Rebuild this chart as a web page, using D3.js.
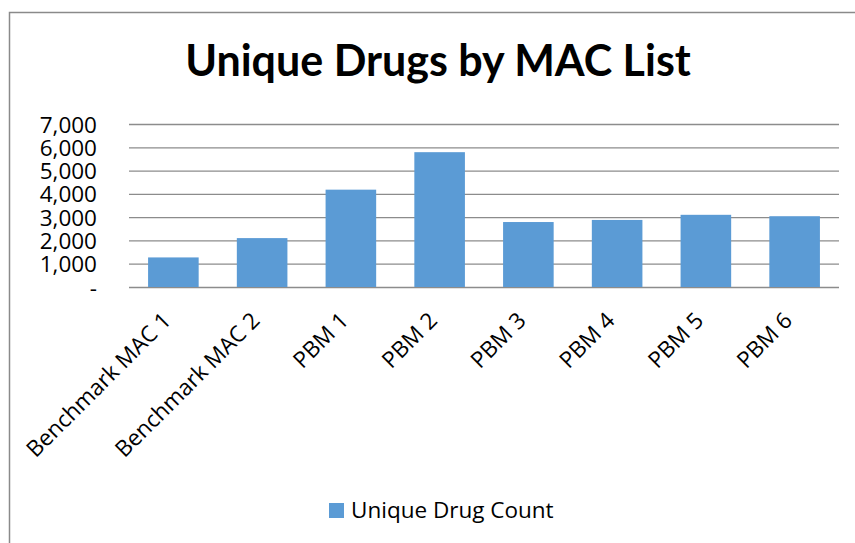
<!DOCTYPE html>
<html>
<head>
<meta charset="utf-8">
<script src="https://cdn.jsdelivr.net/npm/d3@7/dist/d3.min.js"></script>
<style>
  html, body { margin: 0; padding: 0; background: #fff; }
  svg { display: block; }
  text { fill: #000; }
</style>
</head>
<body>
<svg id="chart" width="855" height="543"></svg>
<script>
// Unique drug counts per MAC list
const categories = ["Benchmark MAC 1", "Benchmark MAC 2", "PBM 1", "PBM 2", "PBM 3", "PBM 4", "PBM 5", "PBM 6"];
const uniqueDrugCount = [1270, 2100, 4180, 5790, 2790, 2880, 3100, 3040];
const yTicks = [0, 1000, 2000, 3000, 4000, 5000, 6000, 7000];
const seriesName = "Unique Drug Count";
const chartTitle = "Unique Drugs by MAC List";

const W = 855, H = 543;
const plot = { left: 129, right: 839, top: 124, bottom: 287 };
const barColor = "#5B9BD5";
const gridColor = "#8c8c8c";
const bodyFont = "'Open Sans', Lato, 'Liberation Sans', sans-serif";
const titleFont = "Lato, 'Open Sans', sans-serif";
const labelSize = 22.5;

const svg = d3.select("#chart");

// outer chart frame (runs past the right and bottom edges)
svg.append("rect")
  .attr("x", 9.5).attr("y", 12.5)
  .attr("width", W + 20).attr("height", H + 20)
  .attr("fill", "#fff")
  .attr("stroke", "#8a8a8a").attr("stroke-width", 1.5);

const x = d3.scaleBand()
  .domain(categories)
  .range([plot.left, plot.right])
  .paddingInner(0.43)
  .paddingOuter(0.215);

const y = d3.scaleLinear()
  .domain([0, 7000])
  .range([plot.bottom, plot.top]);

// horizontal gridlines, including the baseline
const yAxis = d3.axisLeft(y)
  .tickValues(yTicks)
  .tickSize(-(plot.right - plot.left))
  .tickFormat(d => d === 0 ? "-" : d3.format(",")(d));

const gy = svg.append("g")
  .attr("transform", `translate(${plot.left},0)`)
  .call(yAxis);
gy.select(".domain").remove();
gy.selectAll(".tick line")
  .attr("stroke", gridColor).attr("stroke-width", 1.3);
gy.selectAll(".tick text")
  .attr("x", -32)
  .attr("dy", "0.36em")
  .attr("font-size", 22.5)
  .attr("text-anchor", "end")
  .style("font-family", bodyFont)
  .attr("fill", "#000");

// bars
svg.append("g").selectAll("rect")
  .data(categories.map((c, i) => ({ c, v: uniqueDrugCount[i] })))
  .join("rect")
  .attr("x", d => x(d.c))
  .attr("y", d => y(d.v))
  .attr("width", x.bandwidth())
  .attr("height", d => y(0) - y(d.v))
  .attr("fill", barColor);

// category labels, rotated
const xAxis = d3.axisBottom(x).tickSize(0);
const gx = svg.append("g")
  .attr("transform", `translate(0,${plot.bottom})`)
  .call(xAxis);
gx.select(".domain").remove();
gx.selectAll(".tick text")
  .attr("font-size", labelSize)
  .attr("text-anchor", "end")
  .attr("dy", null)
  .attr("y", 0)
  .attr("transform", "translate(-1,35) rotate(-45)")
  .style("font-family", bodyFont)
  .attr("fill", "#000");

// title
svg.append("text")
  .attr("x", 438).attr("y", 76)
  .attr("text-anchor", "middle")
  .attr("font-size", 43)
  .attr("font-weight", "bold")
  .style("font-family", titleFont)
  .text(chartTitle);

// legend
const leg = svg.append("g");
leg.append("rect")
  .attr("x", 329).attr("y", 503)
  .attr("width", 15).attr("height", 15)
  .attr("fill", barColor);
leg.append("text")
  .attr("x", 351).attr("y", 518)
  .attr("font-size", labelSize)
  .style("font-family", bodyFont)
  .text(seriesName);
</script>
</body>
</html>
